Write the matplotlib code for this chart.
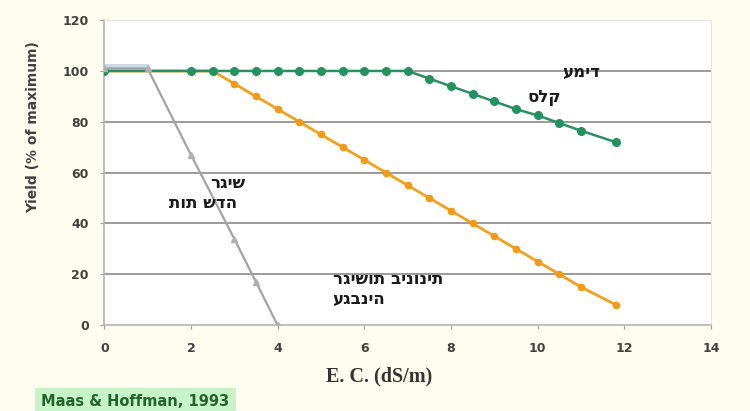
import numpy as np
import matplotlib
matplotlib.use("Agg")
import matplotlib.pyplot as plt

# salt tolerance curves (Maas & Hoffman) - yield % vs soil EC
beet_x = [0, 2, 2.5, 3, 3.5, 4, 4.5, 5, 5.5, 6, 6.5, 7, 7.5, 8, 8.5, 9, 9.5, 10, 10.5, 11, 11.8]
beet_y = [100, 100, 100, 100, 100, 100, 100, 100, 100, 100, 100, 100, 97, 94, 91, 88, 85, 82.5, 79.5, 76.5, 72]

tom_x = [0, 2.5, 3, 3.5, 4, 4.5, 5, 5.5, 6, 6.5, 7, 7.5, 8, 8.5, 9, 9.5, 10, 10.5, 11, 11.8]
tom_y = [100, 100, 95, 90, 85, 80, 75, 70, 65, 60, 55, 50, 45, 40, 35, 30, 25, 20, 15, 8]

straw_x = [0, 1, 2, 3, 3.5, 4]
straw_y = [101, 101, 67, 34, 17, 0]

labels = [
    ("עמיד", 11.45, 99.5, "right"),
    ("סלק", 10.55, 89.8, "right"),
    ("רגיש", 3.25, 56, "right"),
    ("תות שדה", 3.07, 48, "right"),
    ("רגישות בינונית", 5.27, 18, "left"),
    ("עגבניה", 5.27, 10.2, "left"),
]

bg = "#fefdf0"
fig = plt.figure(figsize=(7.5, 4.11), dpi=100, facecolor=bg)
ax = fig.add_axes([0.139, 0.209, 0.809, 0.742])
ax.set_facecolor("white")

for y in [20, 40, 60, 80, 100]:
    ax.axhline(y, color="#8a8a8a", lw=1.2, zorder=1)

# faint highlight under the first flat part of the strawberry line
ax.plot(straw_x[:2], [straw_y[0] + 0.5] * 2, color="#c9dbe6", lw=5, zorder=2,
        solid_capstyle="butt")

ax.plot(tom_x, tom_y, color="#f5a01c", lw=2, zorder=3)
ax.plot(tom_x[2:], tom_y[2:], "o", color="#f29a14", ms=4.5, zorder=4)

ax.plot(beet_x, beet_y, color="#2a8f63", lw=1.8, zorder=5)
ax.plot(beet_x, beet_y, "o", color="#22935e", ms=5.5, zorder=6)

ax.plot(straw_x, straw_y, color="#a3a3a3", lw=1.6, zorder=7)
ax.plot(straw_x, straw_y, "^", color="#b0b0b0", ms=5, zorder=8)

for txt, x, y, ha in labels:
    ax.text(x, y, txt, ha=ha, va="center", fontsize=12, fontweight="bold",
            family=["DejaVu Sans"], color="#1a1a1a", zorder=9)

ax.set_xlim(0, 14)
ax.set_ylim(0, 120)
ax.set_xticks(range(0, 15, 2))
ax.set_yticks(range(0, 121, 20))
ax.tick_params(labelsize=9, colors="#9a9a9a", labelcolor="#404040", length=3)
ax.tick_params(axis="x", pad=9)
ax.tick_params(axis="y", pad=8)
for t in ax.get_xticklabels() + ax.get_yticklabels():
    t.set_fontweight("bold")

for s in ["top", "right"]:
    ax.spines[s].set_color("#e6e6e6")
for s in ["left", "bottom"]:
    ax.spines[s].set_color("#b5b5b5")
    ax.spines[s].set_linewidth(1.2)

ax.set_ylabel("Yield (% of maximum)", fontsize=10, fontweight="bold", color="#404040")
ax.yaxis.set_label_coords(-0.105, 0.65)
ax.set_xlabel("E. C. (dS/m)", fontsize=14.5, fontweight="bold", color="#333333",
              family="Liberation Serif")
ax.xaxis.set_label_coords(0.453, -0.135)

fig.text(0.055, 0.022, "Maas & Hoffman, 1993", fontsize=10.5, fontweight="bold",
         color="#24642c", va="center",
         bbox=dict(boxstyle="square,pad=0.45", fc="#c8f2c8", ec="none"))

fig.savefig("out.png", dpi=100, facecolor=bg)
